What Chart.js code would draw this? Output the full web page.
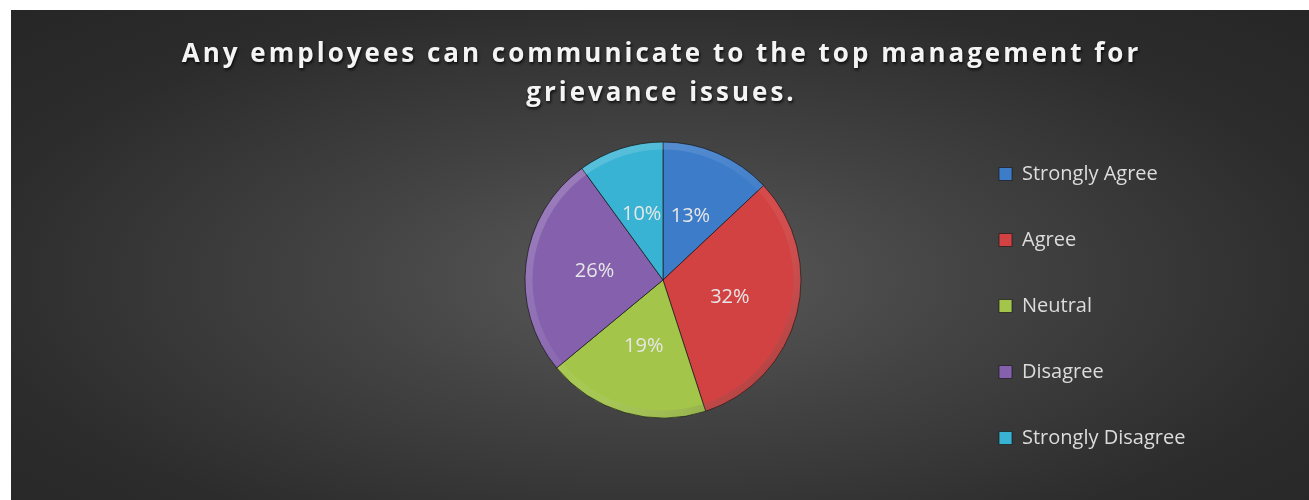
<!DOCTYPE html>
<html>
<head>
<meta charset="utf-8">
<script src="https://cdn.jsdelivr.net/npm/chart.js@4.4.1/dist/chart.umd.min.js"></script>
<style>
  html, body { margin: 0; padding: 0; background: #fff; }
  #wrap {
    position: absolute; left: 11px; top: 10px; width: 1298px; height: 490px;
    background: radial-gradient(ellipse farthest-corner at 50% 55%, #5a5a5a 0%, #434343 35%, #2c2c2c 75%, #262626 100%);
  }
</style>
</head>
<body>
<div id="wrap"><canvas id="grievanceChart"></canvas></div>
<script>
const titleLines = ['Any employees can communicate to the top management for', 'grievance issues.'];
const categories = ['Strongly Agree', 'Agree', 'Neutral', 'Disagree', 'Strongly Disagree'];
const percentages = [13, 32, 19, 26, 10];
const sliceColors = ['#3d7cc9', '#d34242', '#a3c64a', '#8561ad', '#38b3d3'];

const legendFont = { family: '"Open Sans", sans-serif', size: 20 };
const legendBox = 13;

// width of the widest legend entry, so the legend column sits where we want it
const measureCtx = document.createElement('canvas').getContext('2d');
measureCtx.font = legendFont.size + 'px ' + legendFont.family;
const longest = Math.max(...categories.map(c => measureCtx.measureText(c).width));
const legendColWidth = legendBox + legendFont.size / 2 + longest;

// two-line spaced-out title with a soft shadow
const titlePlugin = {
    id: 'spacedTitle',
    afterDraw(chart) {
        const ctx = chart.ctx;
        ctx.save();
        ctx.font = 'bold 26px "Open Sans", sans-serif';
        ctx.letterSpacing = '3px';
        ctx.textAlign = 'center';
        ctx.textBaseline = 'alphabetic';
        ctx.fillStyle = '#f4f4f4';
        ctx.shadowColor = 'rgba(0,0,0,0.75)';
        ctx.shadowBlur = 3;
        ctx.shadowOffsetX = 1;
        ctx.shadowOffsetY = 2;
        const cx = chart.width / 2 + 1.5;
        titleLines.forEach((line, i) => ctx.fillText(line, cx, 52 + i * 39));
        ctx.restore();
    }
};

// soft bevel: light rim on the upper left, shaded rim on the lower right
const bevelPlugin = {
    id: 'pieBevel',
    afterDatasetsDraw(chart) {
        const arc = chart.getDatasetMeta(0).data[0];
        if (!arc) return;
        const { x, y, outerRadius } = arc.getProps(['x', 'y', 'outerRadius'], true);
        const ctx = chart.ctx;
        const g = ctx.createLinearGradient(x - outerRadius, y - outerRadius, x + outerRadius, y + outerRadius);
        g.addColorStop(0, 'rgba(255,255,255,0.22)');
        g.addColorStop(0.5, 'rgba(255,255,255,0.04)');
        g.addColorStop(1, 'rgba(0,0,0,0.28)');
        ctx.save();
        ctx.beginPath();
        ctx.arc(x, y, outerRadius - 4, 0, Math.PI * 2);
        ctx.lineWidth = 7;
        ctx.strokeStyle = g;
        ctx.stroke();
        ctx.restore();
    }
};

// percentage labels in the middle of each slice
const sliceLabels = {
    id: 'sliceLabels',
    afterDatasetsDraw(chart) {
        const ctx = chart.ctx;
        const meta = chart.getDatasetMeta(0);
        ctx.save();
        ctx.font = '20px "Open Sans", sans-serif';
        ctx.fillStyle = '#e6e6e6';
        ctx.textAlign = 'center';
        ctx.textBaseline = 'middle';
        meta.data.forEach((arc, i) => {
            const p = arc.tooltipPosition();
            ctx.fillText(percentages[i] + '%', p.x, p.y);
        });
        ctx.restore();
    }
};

const ctx = document.getElementById('grievanceChart');
if (!ctx) {
    console.error('Canvas element not found');
}

new Chart(ctx, {
    type: 'pie',
    data: {
        labels: categories,
        datasets: [{
            data: percentages,
            backgroundColor: sliceColors,
            borderColor: 'rgba(25,25,25,0.7)',
            borderWidth: 1,
            radius: 138
        }]
    },
    options: {
        responsive: true,
        maintainAspectRatio: false,
        animation: false,
        layout: {
            padding: {
                left: 362,
                right: 1298 - 988 - legendColWidth - 10,
                top: 56,
                bottom: 6
            }
        },
        plugins: {
            legend: {
                display: true,
                position: 'right',
                align: 'end',
                labels: {
                    color: '#dcdcdc',
                    font: legendFont,
                    boxWidth: legendBox,
                    boxHeight: legendBox,
                    padding: 46
                }
            },
            title: { display: false },
            tooltip: { enabled: false }
        }
    },
    plugins: [bevelPlugin, sliceLabels, titlePlugin]
});
</script>
</body>
</html>
